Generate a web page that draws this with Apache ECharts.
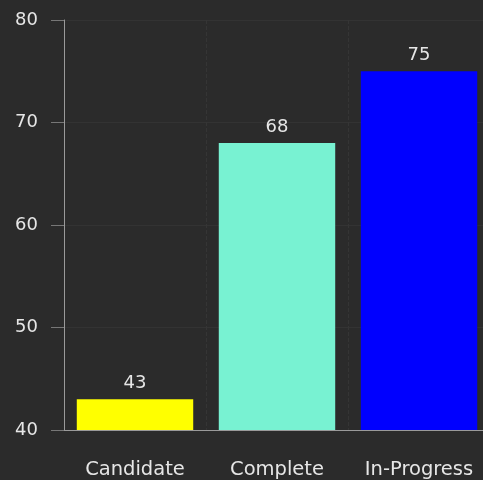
<!DOCTYPE html>
<html><head><meta charset="utf-8">
<script src="https://cdn.jsdelivr.net/npm/echarts@6/dist/echarts.min.js"></script>
<style>html,body{margin:0;padding:0;background:#2b2b2b;}#c{width:483px;height:480px;}</style>
</head><body><div id="c"></div>
<script>
const categories = ['Candidate', 'Complete', 'In-Progress'];
const values = [43, 68, 75];
const colors = ['#ffff00', '#78f2d2', '#0000ff'];
const yTicks = { min: 40, max: 80, interval: 10 };

const chart = echarts.init(document.getElementById('c'));
chart.setOption({
  backgroundColor: '#2b2b2b',
  animation: false,
  grid: { left: 64, width: 426, top: 20, height: 410, containLabel: false, outerBoundsMode: 'none' },
  xAxis: {
    type: 'category',
    data: categories,
    axisLine: { lineStyle: { color: '#9a9a9a', width: 1 } },
    axisTick: { alignWithLabel: true, length: 10, lineStyle: { color: '#777' } },
    axisLabel: { color: '#e6e6e6', fontSize: 19.5, fontFamily: 'DejaVu Sans', margin: 30 },
    splitLine: { show: true, lineStyle: { color: '#353535', type: 'dashed' } }
  },
  yAxis: {
    type: 'value',
    min: yTicks.min, max: yTicks.max, interval: yTicks.interval,
    axisLine: { show: true, lineStyle: { color: '#9a9a9a', width: 1 } },
    axisTick: { show: true, length: 13, lineStyle: { color: '#777' } },
    axisLabel: { color: '#e6e6e6', fontSize: 18, fontFamily: 'DejaVu Sans', margin: 26 },
    splitLine: { show: true, lineStyle: { color: '#333333' } }
  },
  series: [{
    type: 'bar',
    barWidth: '82%',
    data: values.map((v, i) => ({ value: v, itemStyle: { color: colors[i] } })),
    label: { show: true, position: 'top', distance: 7, color: '#e6e6e6', fontSize: 18, fontFamily: 'DejaVu Sans' }
  }]
});
</script></body></html>
